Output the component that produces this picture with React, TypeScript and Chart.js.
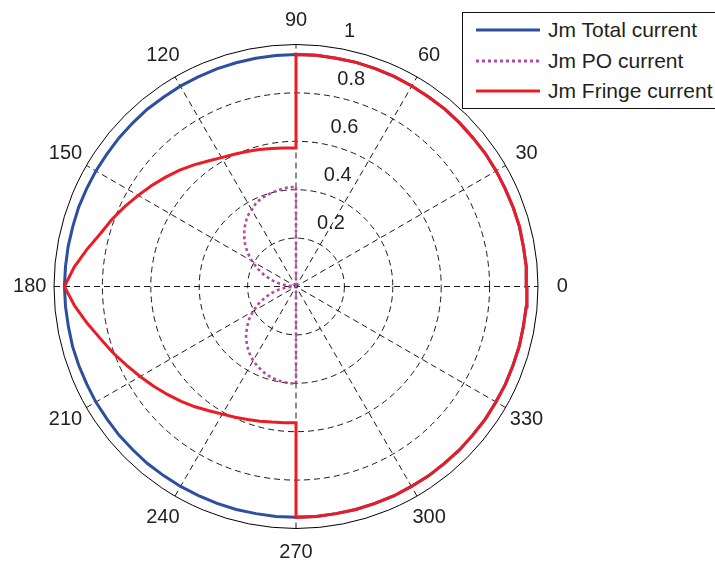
import React, { useEffect, useRef } from 'react';
import { Chart, registerables } from 'chart.js';

Chart.register(...registerables);

// ---- data (angles in degrees, radii in plot units) ----
const angleTickLabels = [0, 30, 60, 90, 120, 150, 180, 210, 240, 270, 300, 330];
const radialTickValues = [0.2, 0.4, 0.6, 0.8, 1];

const totalAngles = [
  0, 5, 10, 15, 20, 25, 30, 35, 40, 45, 50, 55, 60, 65, 70, 75, 80, 85, 90,
  95, 100, 105, 110, 115, 120, 125, 130, 135, 140, 145, 150, 155, 160, 165, 170, 175, 180,
  185, 190, 195, 200, 205, 210, 215, 220, 225, 230, 235, 240, 245, 250, 255, 260, 265, 270,
  275, 280, 285, 290, 295, 300, 305, 310, 315, 320, 325, 330, 335, 340, 345, 350, 355, 360,
];
const totalValues = [
  0.954, 0.955, 0.954, 0.956, 0.955, 0.954, 0.955, 0.956, 0.955, 0.956, 0.957, 0.956, 0.957, 0.958, 0.958, 0.959, 0.958, 0.959, 0.959,
  0.958, 0.958, 0.957, 0.957, 0.956, 0.956, 0.955, 0.956, 0.955, 0.955, 0.954, 0.955, 0.955, 0.956, 0.955, 0.956, 0.956, 0.957,
  0.956, 0.955, 0.956, 0.955, 0.954, 0.955, 0.954, 0.955, 0.954, 0.955, 0.954, 0.954, 0.953, 0.954, 0.954, 0.953, 0.954, 0.954,
  0.954, 0.953, 0.954, 0.954, 0.955, 0.954, 0.955, 0.954, 0.955, 0.954, 0.955, 0.954, 0.955, 0.954, 0.955, 0.954, 0.955, 0.954,
];

const poAngles = [
  0, 90, 90,
  95, 100, 105, 110, 115, 120, 125, 130, 135, 140, 145, 150, 155, 160, 165, 170, 175, 180,
  185, 190, 195, 200, 205, 210, 215, 220, 225, 230, 235, 240, 245, 250, 255, 260, 265, 270,
  270, 360,
];
const poValues = [
  0, 0, 0.412,
  0.410, 0.406, 0.400, 0.393, 0.385, 0.366, 0.352, 0.328, 0.304, 0.275, 0.245, 0.210, 0.176, 0.140, 0.106, 0.070, 0.035, 0.0,
  0.035, 0.070, 0.105, 0.138, 0.172, 0.205, 0.237, 0.265, 0.292, 0.316, 0.336, 0.354, 0.368, 0.380, 0.390, 0.396, 0.400, 0.402,
  0, 0,
];

const fringeAngles = [
  0, 5, 10, 15, 20, 25, 30, 35, 40, 45, 50, 55, 60, 65, 70, 75, 80, 85, 90,
  90, 95, 100, 105, 110, 115, 120, 125, 130, 135, 140, 145, 150, 155, 160, 165, 170, 175, 180,
  185, 190, 195, 200, 205, 210, 215, 220, 225, 230, 235, 240, 245, 250, 255, 260, 265, 270,
  270, 275, 280, 285, 290, 295, 300, 305, 310, 315, 320, 325, 330, 335, 340, 345, 350, 355, 360,
];
const fringeValues = [
  0.954, 0.955, 0.954, 0.956, 0.955, 0.954, 0.955, 0.956, 0.955, 0.956, 0.957, 0.956, 0.957, 0.958, 0.958, 0.959, 0.958, 0.959, 0.959,
  0.572, 0.574, 0.579, 0.586, 0.594, 0.603, 0.615, 0.633, 0.656, 0.680, 0.703, 0.728, 0.753, 0.781, 0.810, 0.838, 0.878, 0.920, 0.957,
  0.918, 0.876, 0.836, 0.804, 0.772, 0.744, 0.718, 0.694, 0.671, 0.649, 0.627, 0.609, 0.596, 0.585, 0.576, 0.569, 0.565, 0.563,
  0.954, 0.954, 0.953, 0.954, 0.954, 0.955, 0.954, 0.955, 0.954, 0.955, 0.954, 0.955, 0.954, 0.955, 0.954, 0.955, 0.954, 0.955, 0.954,
];

const seriesNames = ['Jm Total current', 'Jm PO current', 'Jm Fringe current'];
const seriesColors = ['#2d4fa0', '#b24aa6', '#ec1c24'];

const FONT = '"Liberation Sans", Arial, Helvetica, sans-serif';
const TEXT_COLOR = '#231f20';

function toXY(angles: number[], values: number[]) {
  return angles.map((a, i) => {
    const t = (a * Math.PI) / 180;
    return { x: values[i] * Math.cos(t), y: values[i] * Math.sin(t) };
  });
}

const polarGrid = {
  id: 'polarGrid',
  beforeDatasetsDraw(chart: any) {
    const { ctx } = chart;
    const xs = chart.scales.x;
    const ys = chart.scales.y;
    const px = (vx: number) => xs.getPixelForValue(vx);
    const py = (vy: number) => ys.getPixelForValue(vy);
    const cx = px(0);
    const cy = py(0);
    const R = px(1) - cx;
    ctx.save();
    ctx.strokeStyle = '#000';
    ctx.lineWidth = 0.9;
    ctx.setLineDash([6, 4]);
    radialTickValues.forEach((v) => {
      if (v < 1) {
        ctx.beginPath();
        ctx.arc(cx, cy, v * R, 0, Math.PI * 2);
        ctx.stroke();
      }
    });
    [0, 30, 60, 90, 120, 150].forEach((a) => {
      const t = (a * Math.PI) / 180;
      ctx.beginPath();
      ctx.moveTo(px(-Math.cos(t)), py(-Math.sin(t)));
      ctx.lineTo(px(Math.cos(t)), py(Math.sin(t)));
      ctx.stroke();
    });
    ctx.setLineDash([]);
    ctx.lineWidth = 1;
    ctx.strokeStyle = '#000';
    ctx.beginPath();
    ctx.arc(cx, cy, R, 0, Math.PI * 2);
    ctx.stroke();

    ctx.fillStyle = TEXT_COLOR;
    ctx.font = `20px ${FONT}`;
    ctx.textAlign = 'center';
    ctx.textBaseline = 'middle';
    angleTickLabels.forEach((a) => {
      const t = (a * Math.PI) / 180;
      ctx.fillText(String(a), px(1.1 * Math.cos(t)), py(1.1 * Math.sin(t)));
    });
    const t82 = (82 * Math.PI) / 180;
    ctx.textAlign = 'left';
    ctx.textBaseline = 'alphabetic';
    radialTickValues.forEach((v) => {
      const ax = px((v + 0.01) * Math.cos(t82));
      const ay = py((v + 0.01) * Math.sin(t82));
      ctx.fillText(String(v), ax + 14, ay - 7);
    });
    ctx.restore();
  },
};

function LegendLine({ color, dotted }: { color: string; dotted?: boolean }) {
  return (
    <svg width={64} height={6} style={{ display: 'block' }}>
      <line
        x1={0}
        y1={3}
        x2={64}
        y2={3}
        stroke={color}
        strokeWidth={3}
        strokeDasharray={dotted ? '3 3' : undefined}
      />
    </svg>
  );
}

export default function App() {
  const canvasRef = useRef<HTMLCanvasElement | null>(null);

  useEffect(() => {
    const canvas = canvasRef.current;
    if (!canvas) return;
    const chart = new Chart(canvas, {
      type: 'scatter',
      data: {
        datasets: [
          {
            label: seriesNames[0],
            data: toXY(totalAngles, totalValues),
            showLine: true,
            borderColor: seriesColors[0],
            borderWidth: 3,
            pointRadius: 0,
            tension: 0,
            order: 2,
          },
          {
            label: seriesNames[1],
            data: toXY(poAngles, poValues),
            showLine: true,
            borderColor: seriesColors[1],
            borderWidth: 2.6,
            borderDash: [3, 3],
            pointRadius: 0,
            tension: 0,
            order: 1,
          },
          {
            label: seriesNames[2],
            data: toXY(fringeAngles, fringeValues),
            showLine: true,
            borderColor: seriesColors[2],
            borderWidth: 3,
            pointRadius: 0,
            tension: 0,
            order: 0,
          },
        ],
      },
      options: {
        animation: false,
        responsive: false,
        events: [],
        clip: false as any,
        layout: { padding: { left: 54, right: 177, top: 44.5, bottom: 38.5 } },
        scales: {
          x: { type: 'linear', min: -1, max: 1, display: false },
          y: { type: 'linear', min: -1, max: 1, display: false },
        },
        plugins: {
          legend: { display: false },
          tooltip: { enabled: false },
          title: { display: false },
        },
      },
      plugins: [polarGrid],
    });
    return () => chart.destroy();
  }, []);

  const rows = [29.5, 60.5, 91];

  return (
    <div
      style={{
        position: 'fixed',
        left: 0,
        top: 0,
        width: 715,
        height: 567,
        overflow: 'hidden',
        background: '#fff',
      }}
    >
      <canvas ref={canvasRef} width={715} height={567} style={{ display: 'block', position: 'absolute', left: 0, top: 0 }} />
      <div
        style={{
          position: 'absolute',
          left: 462,
          top: 12,
          width: 270,
          height: 97,
          border: '1px solid #111',
          background: '#fff',
          boxSizing: 'border-box',
        }}
      >
        {seriesNames.map((name, i) => (
          <div
            key={name}
            style={{
              position: 'absolute',
              left: 13,
              top: rows[i] - 12 - 13,
              height: 24,
              display: 'flex',
              alignItems: 'center',
              whiteSpace: 'nowrap',
            }}
          >
            <LegendLine color={seriesColors[i]} dotted={i === 1} />
            <span
              style={{
                marginLeft: 8,
                fontFamily: FONT,
                fontSize: 21,
                color: TEXT_COLOR,
                lineHeight: '24px',
              }}
            >
              {name}
            </span>
          </div>
        ))}
      </div>
    </div>
  );
}
